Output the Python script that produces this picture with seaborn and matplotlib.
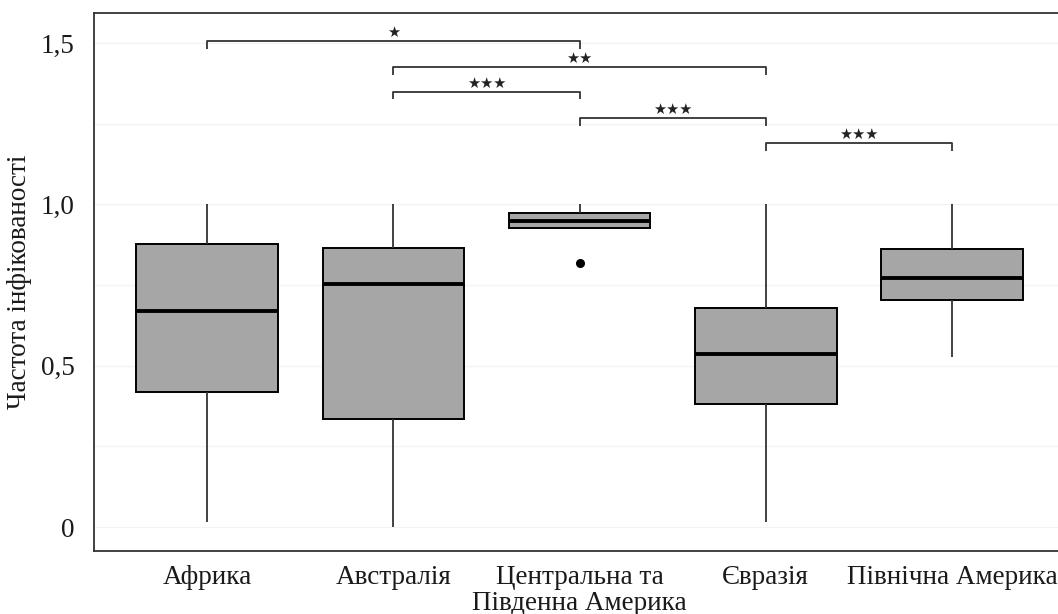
import numpy as np
import pandas as pd
import seaborn as sns
import matplotlib.pyplot as plt

# five-number summaries (min, Q1, median, Q3, max) + outliers
regions = ['Африка', 'Австралія', 'Центральна та\nПівденна Америка', 'Євразія', 'Північна Америка']
africa = [0.015, 0.418, 0.669, 0.877, 1.0]
australia = [0.0, 0.335, 0.753, 0.865, 1.0]
csa = [0.818, 0.927, 0.950, 0.972, 1.0]
eurasia = [0.015, 0.381, 0.536, 0.679, 1.0]
n_america = [0.528, 0.703, 0.773, 0.861, 1.0]

# significance brackets: (left group, right group, height, label)
pairs = [(0, 2), (1, 3), (1, 2), (2, 3), (3, 4)]
bracket_y = [1.507, 1.4245, 1.349, 1.2665, 1.189]
stars = ['★', '★★', '★★★', '★★★', '★★★']

groups = [africa, australia, csa, eurasia, n_america]
df = pd.DataFrame({
    'region': np.repeat(regions, [len(g) for g in groups]),
    'value': np.concatenate(groups),
})

sns.set_style('white')
plt.rcParams['font.family'] = ['Liberation Serif', 'DejaVu Serif']

fig = plt.figure(figsize=(10.58, 6.14), dpi=100)
ax = fig.add_axes([94 / 1058, 1 - 551 / 614, 1 - 94 / 1058, (551 - 13) / 614])

ax.set_yticks([0.25, 0.75, 1.25], minor=True)
ax.grid(True, which='both', color='#f3f3f3', linewidth=0.9, zorder=0)
ax.set_axisbelow(True)

sns.boxplot(data=df, x='region', y='value', order=regions, ax=ax,
            color='#a6a6a6', saturation=1, width=0.76, whis=1.5,
            linecolor='black', linewidth=1.4,
            medianprops=dict(color='black', linewidth=2.8),
            whiskerprops=dict(color='#333333', linewidth=1.3),
            capprops=dict(linewidth=0),
            flierprops=dict(marker='o', markerfacecolor='black',
                            markeredgecolor='black', markersize=5.5))

tip = 0.024
for (a, b), y, s in zip(pairs, bracket_y, stars):
    ax.plot([a, a, b, b], [y - tip, y, y, y - tip], color='#333333', lw=1.3,
            solid_capstyle='butt', zorder=5)
    ax.text((a + b) / 2, y + 0.004, s, ha='center', va='bottom',
            fontsize=10.5, family='DejaVu Sans', color='#222222')

ax.set_xlim(-0.607, 4.569)
ax.set_ylim(-0.074, 1.593)
ax.set_yticks([0, 0.5, 1.0, 1.5])
ax.set_yticklabels(['0', '0,5', '1,0', '1,5'])
ax.set_xticks(range(len(regions)))
ax.set_xticklabels(regions, linespacing=1.05)

ax.tick_params(axis='both', which='major', length=5, width=1.2, color='#333333',
               labelsize=19.5, labelcolor='#1a1a1a', direction='out')
ax.tick_params(axis='y', pad=9)
ax.tick_params(axis='x', pad=5)
ax.tick_params(axis='y', which='minor', length=0)

ax.set_xlabel('')
ax.set_ylabel('Частота інфікованості', fontsize=19.5, color='#1a1a1a', labelpad=6)

for side in ['left', 'bottom', 'top']:
    ax.spines[side].set_color('#333333')
    ax.spines[side].set_linewidth(1.3)
ax.spines['right'].set_visible(False)

fig.savefig('out.png', dpi=100)
